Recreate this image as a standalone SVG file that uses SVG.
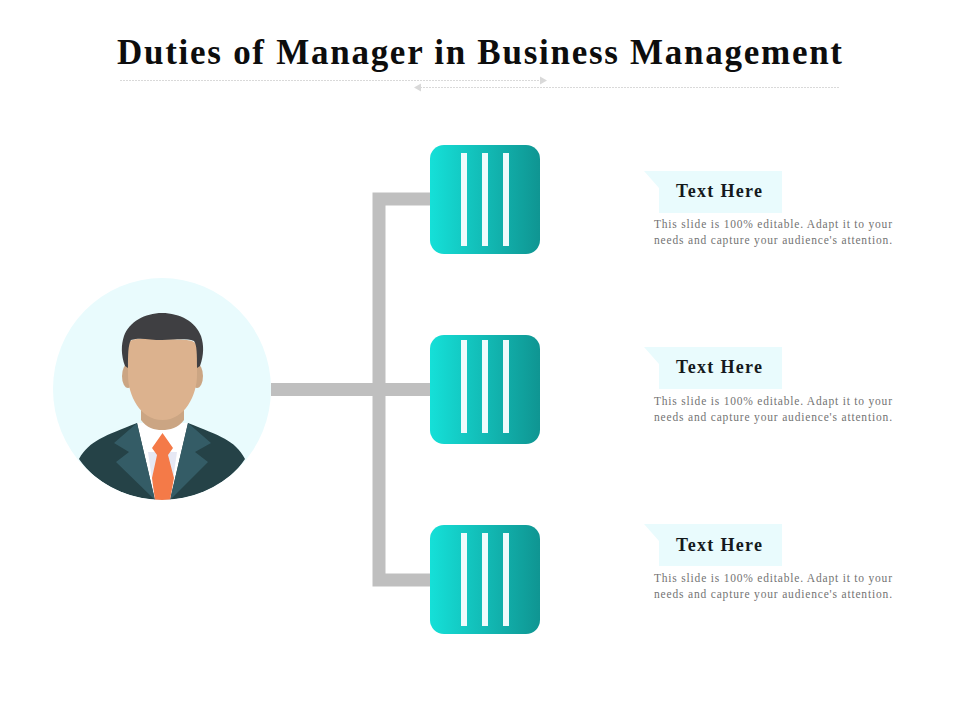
<svg xmlns="http://www.w3.org/2000/svg" width="960" height="720" viewBox="0 0 960 720">
<style>
.title{font:bold 35px "Liberation Serif",serif;fill:#0d0d0d}
.head{font:bold 18px "Liberation Serif",serif;fill:#14191c}
.body{font:11.5px "Liberation Serif",serif;fill:#737373}
.conn{fill:none;stroke:#bfbfbf;stroke-width:13}
.rule{stroke:#d9d9d9;stroke-width:1;stroke-dasharray:2 1}
.bar{fill:#eefbfc}
.tag{fill:#e9fbfd}
</style>
<defs>
<linearGradient id="g" x1="0" y1="0" x2="1" y2="0"><stop offset="0" stop-color="#15e0d8"/><stop offset="1" stop-color="#0f9592"/></linearGradient>
<clipPath id="c"><ellipse cx="162" cy="389" rx="109" ry="111"/></clipPath>
</defs>
<rect width="960" height="720" fill="#fff"/>
<text class="title" x="117" y="64" textLength="725" lengthAdjust="spacing">Duties of Manager in Business Management</text>
<g id="rules">
<line class="rule" x1="120" y1="80.500" x2="540" y2="80.500"/><path d="M540 76.500l7 4-7 4z" fill="#d9d9d9"/>
<line class="rule" x1="420" y1="87.500" x2="839" y2="87.500"/><path d="M421 83.500l-7 4 7 4z" fill="#d9d9d9"/>
</g>
<g id="connectors">
<path class="conn" d="M430 199H379V580H430"/>
<path class="conn" d="M271 389.500H430"/>
</g>
<g id="manager">
<ellipse cx="162" cy="389" rx="109" ry="111" fill="#e9fbfd"/>
<g clip-path="url(#c)">
<path d="M79 459C90 440 105 436 137 423H188C220 436 235 440 245 459C228 485 195 500 162 500C130 500 97 485 79 459Z" fill="#254247"/>
<path d="M137 423H188L170 500H155Z" fill="#fff"/>
<path d="M148 452L155 500H170L177 452Z" fill="#e6e8f4"/>
<path d="M137 423L114 443L129 452L116 462L155 500Z" fill="#345c66"/>
<path d="M188 423L211 443L195 452L208 462L170 500Z" fill="#345c66"/>
<path d="M162.500 433L152 448L157 455L152 478L155 500H170L174 478L168 455L173 448Z" fill="#f47a48"/>
</g>
<path d="M141 405H184V420C178 428 170 430 162 430C154 430 147 428 141 420Z" fill="#cba583"/>
<ellipse cx="128" cy="376" rx="6" ry="12" fill="#cba583"/>
<ellipse cx="197" cy="376" rx="6" ry="12" fill="#cba583"/>
<path d="M128 345C128 338 140 338 162 339C185 340 197 338 197 348V375C197 395 185 420 162.500 420C140 420 128 395 128 375Z" fill="#dcb28e"/>
<path d="M128 368L125 366C121 355 121 345 124 336C129 322 145 313 162 313C180 313 196 322 201 336C204 345 204 355 200 366L197 368C197 355 197 345 194 341C185 338 175 340 162 340C150 340 140 337 131 340C128 345 128 355 128 368Z" fill="#3f3f42"/>
</g>
<g id="node1">
<rect x="430" y="145" width="110" height="109" rx="14" fill="url(#g)"/>
<rect class="bar" x="461" y="153" width="6" height="93"/><rect class="bar" x="482" y="153" width="6" height="93"/><rect class="bar" x="503" y="153" width="6" height="93"/>
</g>
<g id="node2">
<rect x="430" y="335" width="110" height="109" rx="14" fill="url(#g)"/>
<rect class="bar" x="461" y="340" width="6" height="93"/><rect class="bar" x="482" y="340" width="6" height="93"/><rect class="bar" x="503" y="340" width="6" height="93"/>
</g>
<g id="node3">
<rect x="430" y="525" width="110" height="109" rx="14" fill="url(#g)"/>
<rect class="bar" x="461" y="533" width="6" height="93"/><rect class="bar" x="482" y="533" width="6" height="93"/><rect class="bar" x="503" y="533" width="6" height="93"/>
</g>
<g id="label1">
<path class="tag" d="M644 171H782V213H659V188Z"/>
<text class="head" x="676" y="197" textLength="86">Text Here</text>
<text class="body" x="654" y="228" textLength="238">This slide is 100% editable. Adapt it to your</text>
<text class="body" x="654" y="244" textLength="238">needs and capture your audience's attention.</text>
</g>
<g id="label2">
<path class="tag" d="M644 347H782V389H659V364Z"/>
<text class="head" x="676" y="373" textLength="86">Text Here</text>
<text class="body" x="654" y="405" textLength="238">This slide is 100% editable. Adapt it to your</text>
<text class="body" x="654" y="421" textLength="238">needs and capture your audience's attention.</text>
</g>
<g id="label3">
<path class="tag" d="M644 524H782V566H659V541Z"/>
<text class="head" x="676" y="551" textLength="86">Text Here</text>
<text class="body" x="654" y="582" textLength="238">This slide is 100% editable. Adapt it to your</text>
<text class="body" x="654" y="598" textLength="238">needs and capture your audience's attention.</text>
</g>
</svg>
